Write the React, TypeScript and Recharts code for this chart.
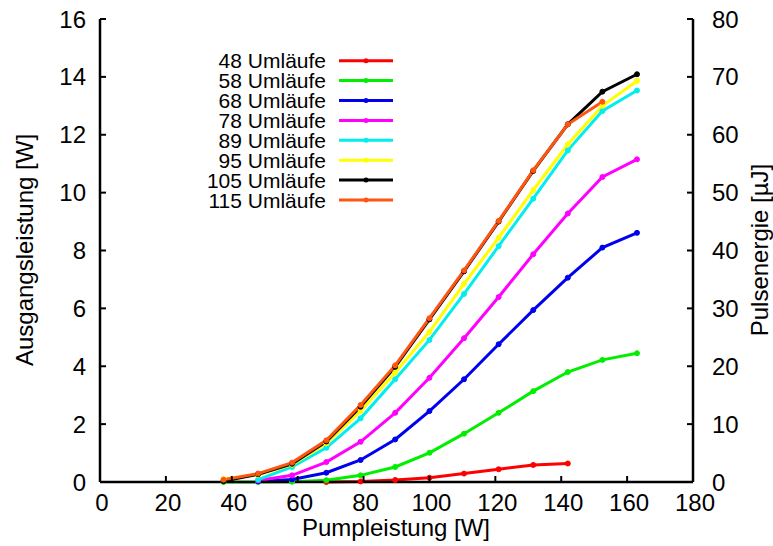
import React from "react"
import { LineChart, Line, XAxis, YAxis, Legend } from "recharts"

// Pumpleistung [W]
const pumpPower = [37.5, 48, 58.3, 68.7, 79.1, 89.6, 100, 110.5, 121, 131.5, 142, 152.5, 163]

// Ausgangsleistung [W] per number of round trips
const u48 = [null, null, null, 0.0, 0.02, 0.07, 0.15, 0.29, 0.44, 0.59, 0.64, null, null]
const u58 = [0.0, 0.0, 0.01, 0.06, 0.23, 0.52, 1.01, 1.67, 2.39, 3.14, 3.8, 4.22, 4.45]
const u68 = [null, 0.02, 0.09, 0.32, 0.76, 1.47, 2.45, 3.55, 4.76, 5.94, 7.06, 8.1, 8.61]
const u78 = [null, 0.05, 0.23, 0.69, 1.39, 2.39, 3.6, 4.97, 6.39, 7.87, 9.28, 10.54, 11.15]
const u89 = [null, 0.08, 0.52, 1.18, 2.2, 3.55, 4.91, 6.5, 8.15, 9.79, 11.46, 12.82, 13.53]
const u95 = [0.1, 0.25, 0.6, 1.33, 2.45, 3.78, 5.19, 6.85, 8.44, 10.09, 11.67, 13.0, 13.86]
const u105 = [0.03, 0.27, 0.63, 1.4, 2.6, 3.98, 5.62, 7.28, 9.0, 10.75, 12.36, 13.49, 14.09]
const u115 = [0.08, 0.29, 0.67, 1.44, 2.66, 4.03, 5.66, 7.31, 9.02, 10.77, 12.36, 13.14, null]

const seriesNames = ["48 Umläufe", "58 Umläufe", "68 Umläufe", "78 Umläufe", "89 Umläufe", "95 Umläufe", "105 Umläufe", "115 Umläufe"]
const seriesValues = [u48, u58, u68, u78, u89, u95, u105, u115]
const seriesColors = ["#ff0000", "#00ee00", "#0000ee", "#ff00ff", "#00eeee", "#ffff00", "#000000", "#ff5511"]

const xTicks = [0, 20, 40, 60, 80, 100, 120, 140, 160, 180]
const yTicks = [0, 2, 4, 6, 8, 10, 12, 14, 16]
const y2Ticks = [0, 10, 20, 30, 40, 50, 60, 70, 80]

const data = pumpPower.map((x, i) => {
  const row: any = { x }
  seriesValues.forEach((vals, k) => {
    row["s" + k] = vals[i]
  })
  return row
})

const FONT = "'Liberation Sans', Arial, Helvetica, sans-serif"
const TICK_LEN = 6

const BottomTick = (props: any) => {
  const { x, y, payload } = props
  return (
    <g>
      <line x1={x} y1={y} x2={x} y2={y - TICK_LEN} stroke="#000" strokeWidth={2} />
      <text x={x + 2} y={y + 29} textAnchor="middle" fontSize={24} fontFamily={FONT} fill="#000">
        {payload.value}
      </text>
    </g>
  )
}

const TopTick = (props: any) => {
  const { x, y } = props
  return <line x1={x} y1={y} x2={x} y2={y + TICK_LEN} stroke="#000" strokeWidth={2} />
}

const LeftTick = (props: any) => {
  const { x, y, payload } = props
  return (
    <g>
      <line x1={x} y1={y} x2={x + TICK_LEN} y2={y} stroke="#000" strokeWidth={2} />
      <text x={x - 14} y={y + 8.5} textAnchor="end" fontSize={24} fontFamily={FONT} fill="#000">
        {payload.value}
      </text>
    </g>
  )
}

const RightTick = (props: any) => {
  const { x, y, payload } = props
  return (
    <g>
      <line x1={x} y1={y} x2={x - TICK_LEN} y2={y} stroke="#000" strokeWidth={2} />
      <text x={x + 19} y={y + 8.5} textAnchor="start" fontSize={24} fontFamily={FONT} fill="#000">
        {payload.value}
      </text>
    </g>
  )
}

const KeyBox = () => (
  <svg width={773} height={546} style={{ position: "absolute", left: 0, top: 0 }}>
    {seriesNames.map((name, i) => {
      const cy = 60.7 + i * 19.9
      return (
        <g key={name}>
          <text x={326} y={cy + 7.5} textAnchor="end" fontSize={21} fontFamily={FONT} fill="#000">
            {name}
          </text>
          <line x1={339} y1={cy} x2={393} y2={cy} stroke={seriesColors[i]} strokeWidth={3} />
          <circle cx={366} cy={cy} r={2.5} fill={seriesColors[i]} />
        </g>
      )
    })}
    <text x={0} y={0} transform="translate(33 250) rotate(-90)" textAnchor="middle" fontSize={24} fontFamily={FONT} fill="#000">
      Ausgangsleistung [W]
    </text>
    <text x={0} y={0} transform="translate(768 250) rotate(-90)" textAnchor="middle" fontSize={24} fontFamily={FONT} fill="#000">
      Pulsenergie [µJ]
    </text>
    <text x={396} y={536} textAnchor="middle" fontSize={24} fontFamily={FONT} fill="#000">
      Pumpleistung [W]
    </text>
  </svg>
)

export default function App() {
  return (
    <div style={{ position: "absolute", left: 0, top: 0, width: 773, height: 546, background: "#fff" }}>
      <LineChart width={773} height={546} data={data} margin={{ top: 19, right: 0, left: 0, bottom: 0 }}>
        <XAxis
          xAxisId="bottom"
          dataKey="x"
          type="number"
          domain={[0, 180]}
          ticks={xTicks}
          height={64}
          tickSize={0}
          tickMargin={0}
          tick={<BottomTick />}
          axisLine={{ stroke: "#000", strokeWidth: 2.5 }}
          interval={0}
        />
        <XAxis
          xAxisId="top"
          orientation="top"
          dataKey="x"
          type="number"
          domain={[0, 180]}
          ticks={xTicks}
          height={0}
          tickSize={0}
          tickMargin={0}
          tick={<TopTick />}
          axisLine={{ stroke: "#000", strokeWidth: 2.5 }}
          interval={0}
        />
        <YAxis
          yAxisId="left"
          type="number"
          domain={[0, 16]}
          ticks={yTicks}
          width={100}
          tickSize={0}
          tickMargin={0}
          tick={<LeftTick />}
          axisLine={{ stroke: "#000", strokeWidth: 2.5 }}
          interval={0}
        />
        <YAxis
          yAxisId="right"
          orientation="right"
          type="number"
          domain={[0, 80]}
          ticks={y2Ticks}
          width={80}
          tickSize={0}
          tickMargin={0}
          tick={<RightTick />}
          axisLine={{ stroke: "#000", strokeWidth: 2.5 }}
          interval={0}
        />
        <Legend
          layout="horizontal"
          verticalAlign="middle"
          wrapperStyle={{ position: "absolute", left: 0, top: 0, width: 773, height: 546, pointerEvents: "none" }}
          content={() => <KeyBox />}
        />
        {/* invisible series so that the top and right axes get drawn */}
        <Line
          xAxisId="top"
          yAxisId="right"
          type="linear"
          dataKey="s1"
          stroke="none"
          dot={false}
          activeDot={false}
          legendType="none"
          isAnimationActive={false}
        />
        {seriesNames.map((name, k) => (
          <Line
            key={name}
            xAxisId="bottom"
            yAxisId="left"
            type="linear"
            dataKey={"s" + k}
            name={name}
            stroke={seriesColors[k]}
            strokeWidth={3}
            dot={{ r: 2.5, fill: seriesColors[k], stroke: seriesColors[k], strokeWidth: 1 }}
            activeDot={false}
            connectNulls={false}
            isAnimationActive={false}
          />
        ))}
      </LineChart>
    </div>
  )
}
